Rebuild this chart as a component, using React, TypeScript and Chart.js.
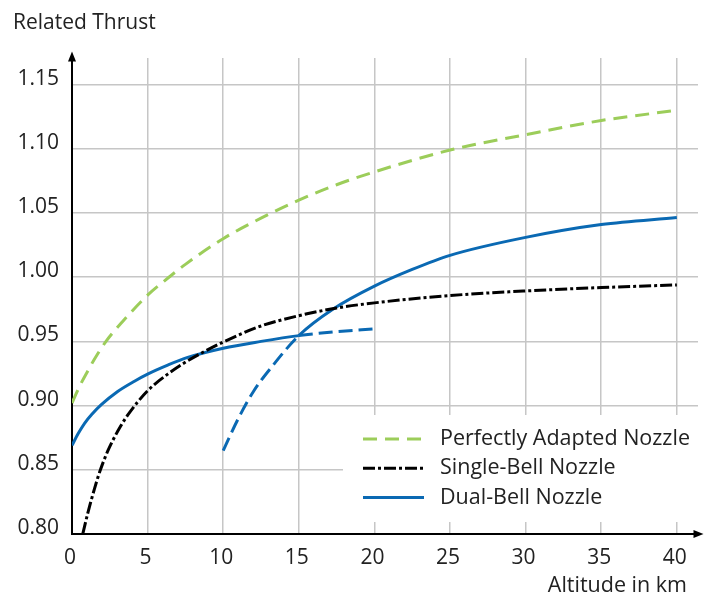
import React, { useEffect, useRef } from "react";
import { Chart, registerables } from "chart.js";

Chart.register(...registerables);

const FONT = "'Open Sans', 'Noto Sans', sans-serif";
const TEXT_COLOR = "#222222";

// ---- data ----
const perfectAlt = [0, 0.5, 1, 1.5, 2.25, 3.35, 5, 6.1, 7.5, 10, 12.5, 15, 17.5, 20, 25, 30, 35, 40];
const perfectThrust = [0.902, 0.915, 0.926, 0.9365, 0.95, 0.9655, 0.986, 0.997, 1.01, 1.03, 1.046, 1.06, 1.072, 1.082, 1.099, 1.111, 1.122, 1.13];

const singleAlt = [0.71, 1.04, 1.48, 1.85, 2.36, 3.02, 3.68, 5, 6.33, 7.32, 8.5, 10, 12.5, 15, 17.5, 20, 25, 30, 35, 40];
const singleThrust = [0.8, 0.816, 0.835, 0.849, 0.8645, 0.88, 0.8925, 0.9115, 0.9245, 0.9325, 0.9405, 0.9495, 0.962, 0.97, 0.976, 0.98, 0.9857, 0.9893, 0.9919, 0.994];

const dualLowAlt = [0, 0.4, 0.82, 1.3, 1.92, 3.02, 4.13, 5, 6.33, 7.65, 10, 12.5, 15, 17.5, 20];
const dualLowThrust = [0.869, 0.878, 0.886, 0.893, 0.9005, 0.911, 0.919, 0.9245, 0.9315, 0.9375, 0.9447, 0.95, 0.9545, 0.9576, 0.9597];

const dualHighAlt = [10, 11, 12, 13.2, 15, 17.25, 20, 22.5, 25, 30, 35, 40];
const dualHighThrust = [0.865, 0.89, 0.911, 0.93, 0.9545, 0.975, 0.993, 1.006, 1.017, 1.031, 1.041, 1.0464];

const switchAltitude = 15;

const xMin = 0;
const xMax = 41.4;
const xStep = 5;
const yMin = 0.8;
const yMax = 1.1707;
const yStep = 0.05;

const yAxisTitle = "Related Thrust";
const xAxisTitle = "Altitude in km";
const legendLabels = ["Perfectly Adapted Nozzle", "Single-Bell Nozzle", "Dual-Bell Nozzle"];

const GREEN = "#9ccd5a";
const BLACK = "#000000";
const BLUE = "#0a69b3";
const GREEN_DASH = [14, 8];
const BLACK_DASH = [12, 3, 3, 3];
const BLUE_DASH = [14, 6];

const toPoints = (xs: number[], ys: number[]) => xs.map((x, i) => ({ x, y: ys[i] }));

const decorations = {
  id: "decorations",
  beforeDatasetsDraw(chart: any) {
    const { ctx, chartArea: a } = chart;
    ctx.save();
    ctx.fillStyle = "#ffffff";
    ctx.fillRect(a.right - 355, a.bottom - 119, 355, 107);
    ctx.restore();
  },
  afterDraw(chart: any) {
    const { ctx, chartArea: a } = chart;
    ctx.save();
    // axis arrows
    ctx.fillStyle = "#000";
    ctx.strokeStyle = "#000";
    ctx.lineWidth = 2;
    ctx.beginPath();
    ctx.moveTo(a.left, a.top + 1);
    ctx.lineTo(a.left, a.top - 2);
    ctx.stroke();
    ctx.beginPath();
    ctx.moveTo(a.left, a.top - 6.5);
    ctx.lineTo(a.left - 4, a.top + 3.5);
    ctx.lineTo(a.left + 4, a.top + 3.5);
    ctx.closePath();
    ctx.fill();
    ctx.beginPath();
    ctx.moveTo(a.right + 5.5, a.bottom);
    ctx.lineTo(a.right - 4.5, a.bottom - 4);
    ctx.lineTo(a.right - 4.5, a.bottom + 4);
    ctx.closePath();
    ctx.fill();

    // x axis title
    ctx.fillStyle = TEXT_COLOR;
    ctx.font = `21.5px ${FONT}`;
    ctx.textAlign = "right";
    ctx.textBaseline = "middle";
    ctx.fillText(xAxisTitle, a.right - 11, a.bottom + 52);

    // legend
    const items = [
      { label: legendLabels[0], color: GREEN, dash: GREEN_DASH, width: 3 },
      { label: legendLabels[1], color: BLACK, dash: BLACK_DASH, width: 3 },
      { label: legendLabels[2], color: BLUE, dash: [], width: 3 },
    ];
    const lx = a.right - 335;
    let ly = a.bottom - 95;
    items.forEach((it) => {
      ctx.strokeStyle = it.color;
      ctx.lineWidth = it.width;
      ctx.setLineDash(it.dash);
      ctx.beginPath();
      ctx.moveTo(lx, ly);
      ctx.lineTo(lx + 61, ly);
      ctx.stroke();
      ctx.setLineDash([]);
      ctx.fillStyle = TEXT_COLOR;
      ctx.textAlign = "left";
      ctx.textBaseline = "middle";
      ctx.fillText(it.label, lx + 77, ly);
      ly += 29.2;
    });
    ctx.restore();
  },
};

export default function App() {
  const ref = useRef<HTMLCanvasElement | null>(null);

  useEffect(() => {
    if (!ref.current) return;
    const isDashedLow = (ctx: any) => (ctx.p0.parsed.x >= switchAltitude ? BLUE_DASH : undefined);
    const isDashedHigh = (ctx: any) => (ctx.p1.parsed.x <= switchAltitude ? BLUE_DASH : undefined);

    const chart = new Chart(ref.current, {
      type: "line",
      data: {
        datasets: [
          {
            label: legendLabels[0],
            data: toPoints(perfectAlt, perfectThrust),
            borderColor: GREEN,
            borderWidth: 3,
            borderDash: GREEN_DASH,
            pointRadius: 0,
            cubicInterpolationMode: "monotone",
            fill: false,
          },
          {
            label: legendLabels[1],
            data: toPoints(singleAlt, singleThrust),
            borderColor: BLACK,
            borderWidth: 3,
            borderDash: BLACK_DASH,
            pointRadius: 0,
            cubicInterpolationMode: "monotone",
            fill: false,
          },
          {
            label: legendLabels[2],
            data: toPoints(dualLowAlt, dualLowThrust),
            borderColor: BLUE,
            borderWidth: 3,
            pointRadius: 0,
            cubicInterpolationMode: "monotone",
            fill: false,
            segment: { borderDash: isDashedLow },
          },
          {
            label: legendLabels[2] + " (high altitude mode)",
            data: toPoints(dualHighAlt, dualHighThrust),
            borderColor: BLUE,
            borderWidth: 3,
            pointRadius: 0,
            cubicInterpolationMode: "monotone",
            fill: false,
            segment: { borderDash: isDashedHigh },
          },
        ],
      },
      options: {
        animation: false,
        responsive: false,
        devicePixelRatio: 1,
        layout: { padding: { left: 13, right: 6, top: 0, bottom: 0 } },
        plugins: {
          legend: { display: false },
          tooltip: { enabled: false },
          title: {
            display: true,
            text: yAxisTitle,
            align: "start",
            color: TEXT_COLOR,
            font: { family: FONT, size: 21, weight: "normal" },
            padding: { top: 10, bottom: 22.8 },
          },
        },
        scales: {
          x: {
            type: "linear",
            min: xMin,
            max: xMax,
            afterFit: (s: any) => {
              s.height = 64;
            },
            ticks: {
              stepSize: xStep,
              includeBounds: false,
              color: TEXT_COLOR,
              font: { family: FONT, size: 21 },
              padding: 11,
              labelOffset: -2,
              maxRotation: 0,
              callback: (v: any) => String(v),
            },
            grid: { color: "#c6c6c6", lineWidth: 1.5, drawTicks: false },
            border: { color: "#000", width: 2 },
          },
          y: {
            type: "linear",
            min: yMin,
            max: yMax,
            afterFit: (s: any) => {
              s.width = 59;
            },
            ticks: {
              stepSize: yStep,
              includeBounds: false,
              color: TEXT_COLOR,
              font: { family: FONT, size: 21 },
              padding: 13,
              labelOffset: -6,
              callback: (v: any) => Number(v).toFixed(2),
            },
            grid: { color: "#c6c6c6", lineWidth: 1.5, drawTicks: false },
            border: { color: "#000", width: 2 },
          },
        },
      },
      plugins: [decorations],
    } as any);
    return () => chart.destroy();
  }, []);

  return (
    <div style={{ position: "absolute", left: 0, top: 0, width: 704, height: 598, background: "#fff" }}>
      <canvas ref={ref} width={704} height={598} style={{ width: 704, height: 598, display: "block" }} />
    </div>
  );
}
